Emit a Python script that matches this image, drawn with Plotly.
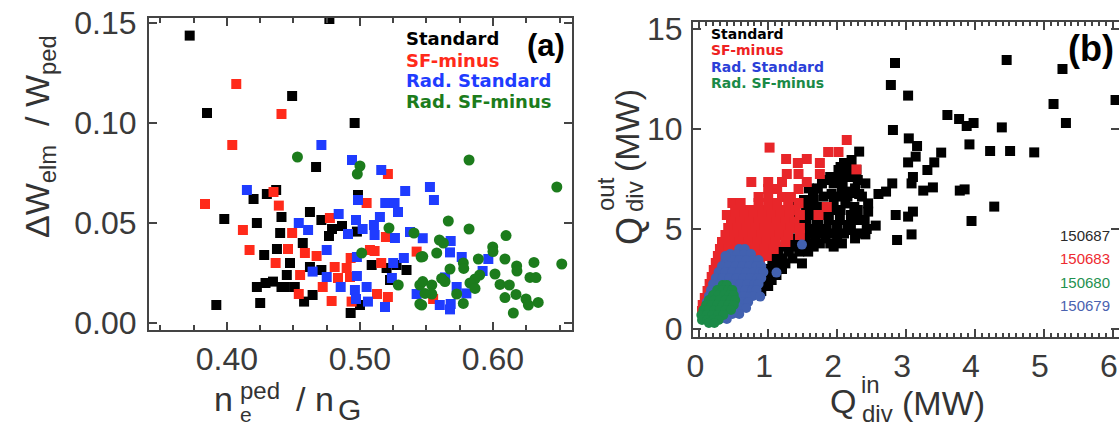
import plotly.graph_objects as go

W, H = 1119, 428

# ---------------- Panel (a) data: dW_elm/W_ped vs n_e^ped/n_G ----------------
A_STANDARD = [
    (0.372, 0.1437), (0.477, 0.152), (0.449, 0.1135), (0.385, 0.105), (0.496, 0.100),
    (0.467, 0.078), (0.437, 0.0665), (0.430, 0.0645), (0.420, 0.062), (0.4985, 0.064),
    (0.398, 0.052), (0.4225, 0.050), (0.441, 0.053), (0.440, 0.045), (0.4376, 0.037),
    (0.428, 0.034), (0.4225, 0.018), (0.429, 0.020), (0.4346, 0.0207), (0.392, 0.009),
    (0.425, 0.010), (0.441, 0.018), (0.4624, 0.0555), (0.471, 0.0515), (0.479, 0.047),
    (0.4767, 0.0435), (0.4865, 0.0485), (0.4977, 0.0457), (0.457, 0.040), (0.5088, 0.029),
    (0.520, 0.0275), (0.5275, 0.029), (0.535, 0.0265), (0.4474, 0.030), (0.445, 0.024),
    (0.4624, 0.028), (0.471, 0.0265), (0.4436, 0.018), (0.451, 0.018), (0.458, 0.0107),
    (0.4644, 0.014), (0.500, 0.009), (0.493, 0.005), (0.5226, 0.0215),
]
A_SF_MINUS = [
    (0.407, 0.1195), (0.441, 0.1045), (0.404, 0.089), (0.521, 0.0745), (0.435, 0.0655),
    (0.3835, 0.0595), (0.439, 0.0587), (0.412, 0.0465), (0.417, 0.0365), (0.4366, 0.030),
    (0.505, 0.060), (0.4774, 0.0525), (0.5195, 0.043), (0.5426, 0.0357), (0.449, 0.045),
    (0.4459, 0.037), (0.4586, 0.035), (0.4674, 0.0335), (0.481, 0.028), (0.490, 0.0275),
    (0.493, 0.0325), (0.5075, 0.0365), (0.511, 0.036), (0.516, 0.030), (0.455, 0.024),
    (0.4835, 0.0225), (0.4925, 0.023), (0.454, 0.0145), (0.472, 0.018), (0.4787, 0.011),
    (0.4937, 0.0107), (0.5128, 0.0145), (0.521, 0.013), (0.555, 0.012),
]
A_RAD_STANDARD = [
    (0.471, 0.089), (0.494, 0.0815), (0.516, 0.0765), (0.415, 0.0665), (0.534, 0.066),
    (0.4985, 0.0615), (0.519, 0.060), (0.526, 0.060), (0.5286, 0.0555), (0.484, 0.0545),
    (0.454, 0.050), (0.461, 0.0465), (0.491, 0.0445), (0.497, 0.0515), (0.502, 0.047),
    (0.5105, 0.049), (0.515, 0.053), (0.511, 0.044), (0.5263, 0.0425), (0.5376, 0.0455),
    (0.475, 0.0365), (0.4977, 0.033), (0.525, 0.030), (0.533, 0.0325), (0.4644, 0.0257),
    (0.475, 0.023), (0.4977, 0.0235), (0.4855, 0.018), (0.4962, 0.0165), (0.497, 0.012),
    (0.505, 0.018), (0.506, 0.0107), (0.5188, 0.008), (0.524, 0.0225), (0.5426, 0.0145),
    (0.5526, 0.068), (0.5556, 0.0615), (0.5472, 0.0424), (0.5682, 0.041), (0.5677, 0.0353),
    (0.5765, 0.033), (0.5965, 0.032), (0.5922, 0.026), (0.564, 0.0228), (0.5727, 0.018),
    (0.580, 0.0148), (0.560, 0.009), (0.5682, 0.0095), (0.5677, 0.0068),
]
A_RAD_SF_MINUS = [
    (0.453, 0.083), (0.500, 0.0785), (0.498, 0.0745), (0.5218, 0.0475), (0.5406, 0.045),
    (0.546, 0.033), (0.5013, 0.035), (0.5288, 0.019), (0.545, 0.019), (0.545, 0.0095),
    (0.582, 0.0815), (0.648, 0.068), (0.5664, 0.051), (0.582, 0.047), (0.6098, 0.0437),
    (0.5597, 0.0415), (0.5627, 0.040), (0.5998, 0.038), (0.600, 0.0357), (0.5577, 0.035),
    (0.5472, 0.0332), (0.589, 0.032), (0.609, 0.032), (0.6308, 0.0303), (0.6517, 0.0295),
    (0.5777, 0.030), (0.578, 0.0273), (0.6178, 0.0285), (0.618, 0.026), (0.5677, 0.027),
    (0.6015, 0.0245), (0.590, 0.024), (0.6278, 0.0228), (0.6323, 0.0227), (0.5865, 0.022),
    (0.5827, 0.020), (0.5639, 0.0207), (0.5614, 0.0223), (0.5472, 0.0207), (0.554, 0.019),
    (0.6053, 0.0193), (0.6123, 0.019), (0.5865, 0.0173), (0.5727, 0.0145), (0.554, 0.0145),
    (0.5489, 0.0148), (0.609, 0.0127), (0.6173, 0.0143), (0.6248, 0.012), (0.634, 0.0103),
    (0.6266, 0.009), (0.5777, 0.0098), (0.5464, 0.009), (0.6153, 0.005),
]

# ---------------- Panel (b) data: Q_div^out vs Q_div^in ----------------
B_STANDARD_POINTS = [
    (2.84, 13.3), (4.46, 13.45), (5.27, 13.0), (2.78, 12.2), (3.03, 11.67), (6.04, 11.45),
    (5.14, 11.25), (5.32, 10.3), (3.60, 10.7), (3.77, 10.5), (3.88, 10.15), (3.98, 10.3),
    (4.39, 10.08), (2.81, 9.95), (3.04, 9.53), (3.16, 9.15), (3.92, 9.23), (4.22, 8.9),
    (4.51, 8.9), (4.86, 8.83), (3.51, 8.82), (2.32, 8.87), (3.14, 8.62), (3.03, 8.33),
    (3.41, 8.33), (3.31, 7.95), (3.10, 7.6), (3.08, 7.28), (2.80, 7.28), (2.71, 6.87),
    (2.60, 6.75), (3.25, 6.92), (3.39, 7.08), (3.78, 6.92), (3.85, 6.98), (2.45, 6.28),
    (2.45, 5.87), (2.85, 5.7), (3.03, 5.62), (3.10, 5.87), (4.28, 6.12), (3.95, 5.4),
    (2.56, 5.17), (3.08, 4.73), (2.87, 4.45), (2.41, 4.73), (2.26, 4.53), (2.21, 6.8),
]
# dense part of the Standard cloud, one row per Q_out level: (Q_out, [Q_in values])
B_STANDARD_ROWS = [
    (8.45, [2.21]), (8.3, [2.1]), (8.1, [2.05, 2.16]), (7.95, [2.02, 2.28]),
    (7.6, [1.90, 2.0, 2.12, 2.24]), (7.45, [1.85, 2.3]), (7.28, [1.78, 1.95, 2.08, 2.41]),
    (7.03, [1.59, 1.72, 2.26]), (6.87, [2.07, 2.2]), (6.75, [1.65, 1.92, 2.32]),
    (6.62, [1.80, 2.02, 2.15, 2.36]), (6.45, [1.52, 1.66]), (6.28, [1.40, 1.95, 2.12]),
    (6.1, [1.6, 1.78, 2.25]), (5.95, [1.55, 1.68, 1.92, 2.05, 2.30]),
    (5.7, [1.37, 1.61, 1.80, 2.2]), (5.45, [1.52, 1.70, 1.88, 2.04, 2.26, 2.40]),
    (5.2, [1.55, 1.73, 2.0, 2.15]), (5.0, [1.62, 1.85, 2.43]), (4.95, [1.72, 2.0, 2.2]),
    (4.78, [1.50, 1.64, 1.78, 1.95, 2.10, 2.31]), (4.53, [1.40, 1.54, 1.68, 1.83, 2.0]),
    (4.28, [1.30, 1.45, 1.60, 1.75, 1.9, 2.07]), (4.12, [1.25, 1.42, 1.66, 1.95]),
    (3.87, [1.15, 1.30, 1.45, 1.58]), (3.53, [1.10, 1.20, 1.35]),
    (3.28, [1.06, 1.13, 1.25, 1.49]), (3.0, [1.0, 1.1, 1.2]), (2.7, [0.98, 1.06, 1.12]),
    (2.45, [0.96, 1.05]), (2.15, [0.92, 1.0]), (1.9, [0.9]),
]
B_SF_MINUS_ROWS = [
    (9.45, [2.14]), (9.07, [1.02]), (8.85, [1.87, 2.02]), (8.5, [1.26, 1.56]),
    (8.3, [1.43, 1.75]), (7.98, [2.28]), (7.75, [1.27, 1.44, 1.75]),
    (7.35, [0.755, 1.0, 1.2, 1.56]), (7.0, [1.0, 1.13, 1.44]), (6.6, [0.86, 1.0, 1.2, 1.33]),
    (6.3, [0.48, 0.6, 0.86, 1.0, 1.13, 1.29, 1.44]), (6.1, [1.85]),
    (5.95, [0.52, 0.62, 0.75, 0.88, 1.0, 1.13, 1.26, 1.40]),
    (5.7, [0.40, 0.53, 0.66, 0.79, 0.92, 1.05, 1.18, 1.31, 1.46, 1.73]),
    (5.35, [0.46, 0.6, 0.73, 0.86, 0.99, 1.12, 1.25, 1.38]),
    (5.05, [0.42, 0.55, 0.68, 0.81, 0.94, 1.07, 1.2, 1.33, 1.46]),
    (4.7, [0.38, 0.51, 0.64, 0.77, 0.9, 1.03, 1.16, 1.29, 1.46]),
    (4.35, [0.33, 0.46, 0.59, 0.72, 0.85, 0.98, 1.11, 1.25]),
    (4.0, [0.30, 0.43, 0.56, 0.69, 0.82, 0.95, 1.08]),
    (3.65, [0.27, 0.4, 0.85, 0.98]), (3.3, [0.24, 0.36, 0.88]), (2.95, [0.21, 0.3, 0.82]),
    (2.6, [0.18, 0.26]), (2.25, [0.15, 0.22]), (1.9, [0.12, 0.18]), (1.55, [0.08, 0.14]),
    (1.2, [0.05, 0.1]), (0.9, [0.04]),
]
B_RAD_STANDARD_POINTS = [(0.38, 3.65), (1.49, 4.22), (1.12, 2.82), (0.885, 1.62)]
B_RAD_STANDARD_ROWS = [
    (4.0, [0.58, 0.66]), (3.75, [0.45, 0.55, 0.65, 0.75]),
    (3.45, [0.38, 0.48, 0.58, 0.68, 0.78, 0.86]),
    (3.15, [0.33, 0.43, 0.53, 0.63, 0.73, 0.83, 0.9]),
    (2.85, [0.28, 0.38, 0.48, 0.58, 0.68, 0.78, 0.88, 0.93]),
    (2.55, [0.24, 0.34, 0.44, 0.54, 0.64, 0.74, 0.84, 0.9]),
    (2.25, [0.2, 0.3, 0.4, 0.5, 0.6, 0.7, 0.8, 0.86]),
    (1.95, [0.17, 0.27, 0.37, 0.47, 0.57, 0.67, 0.77, 0.83]),
    (1.65, [0.14, 0.24, 0.34, 0.44, 0.54, 0.64, 0.74, 0.78]),
    (1.35, [0.11, 0.21, 0.31, 0.41, 0.51, 0.61, 0.71]),
    (1.05, [0.09, 0.19, 0.29, 0.39, 0.49, 0.59, 0.68]),
    (0.75, [0.08, 0.18, 0.28, 0.38, 0.48, 0.58]),
    (0.5, [0.1, 0.2, 0.3, 0.4]),
]
B_RAD_SF_MINUS_ROWS = [
    (2.2, [0.34, 0.40]), (1.95, [0.26, 0.34, 0.42, 0.48]), (1.7, [0.2, 0.28, 0.36, 0.44, 0.5]),
    (1.45, [0.14, 0.22, 0.3, 0.38, 0.46, 0.52]), (1.2, [0.1, 0.18, 0.26, 0.34, 0.42, 0.5]),
    (0.95, [0.06, 0.14, 0.22, 0.3, 0.38, 0.46]), (0.7, [0.03, 0.11, 0.19, 0.27, 0.35]),
    (0.45, [0.04, 0.12, 0.2, 0.28]), (0.3, [0.14, 0.22]),
]

A_XTICKS = [0.40, 0.50, 0.60]
A_XTICKTEXT = ["0.40", "0.50", "0.60"]
A_XMINOR = [0.35, 0.375, 0.425, 0.45, 0.475, 0.525, 0.55, 0.575, 0.625, 0.65]
A_YTICKS = [0.00, 0.05, 0.10, 0.15]
A_YTICKTEXT = ["0.00", "0.05", "0.10", "0.15"]
B_XTICKS = [0, 1, 2, 3, 4, 5, 6]
B_YTICKS = [0, 5, 10, 15]

LEGEND_NAMES = ["Standard", "SF-minus", "Rad. Standard", "Rad. SF-minus"]
SHOTS = ["150687", "150683", "150680", "150679"]

A_COLORS = ["#000000", "#ff2a1a", "#1f3cff", "#1c7c1c"]
B_COLORS = ["#000000", "#e8262a", "#4261b0", "#1b8a47"]
B_LEGEND_COLORS = ["#000000", "#ee2222", "#2b3fd8", "#1b8a47"]
SHOT_COLORS = ["#2a2a2a", "#ee2a30", "#1f9150", "#4a62b0"]


def unpack(points):
    return [p[0] for p in points], [p[1] for p in points]


def unrows(rows):
    xs, ys = [], []
    for yv, xvals in rows:
        for xv in xvals:
            xs.append(xv)
            ys.append(yv)
    return xs, ys


def px(x):
    return x / W


def py(y):
    return 1 - y / H


fig = go.Figure()

# panel (a)
for pts, col, sym, sz in [
    (A_STANDARD, A_COLORS[0], "square", 10),
    (A_SF_MINUS, A_COLORS[1], "square", 10),
    (A_RAD_STANDARD, A_COLORS[2], "square", 10),
    (A_RAD_SF_MINUS, A_COLORS[3], "circle", 11),
]:
    xs, ys = unpack(pts)
    fig.add_trace(go.Scatter(x=xs, y=ys, mode="markers", xaxis="x", yaxis="y",
                             marker=dict(symbol=sym, size=sz, color=col, line=dict(width=0)),
                             showlegend=False, hoverinfo="skip"))

# panel (b)
bx, by = unpack(B_STANDARD_POINTS)
rx, ry = unrows(B_STANDARD_ROWS)
fig.add_trace(go.Scatter(x=bx + rx, y=by + ry, mode="markers", xaxis="x2", yaxis="y2",
                         marker=dict(symbol="square", size=10, color=B_COLORS[0], line=dict(width=0)),
                         showlegend=False, hoverinfo="skip"))
rx, ry = unrows(B_SF_MINUS_ROWS)
fig.add_trace(go.Scatter(x=rx, y=ry, mode="markers", xaxis="x2", yaxis="y2",
                         marker=dict(symbol="square", size=10, color=B_COLORS[1], line=dict(width=0)),
                         showlegend=False, hoverinfo="skip"))
bx, by = unpack(B_RAD_STANDARD_POINTS)
rx, ry = unrows(B_RAD_STANDARD_ROWS)
fig.add_trace(go.Scatter(x=rx + bx, y=ry + by, mode="markers", xaxis="x2", yaxis="y2",
                         marker=dict(symbol="circle", size=10, color=B_COLORS[2], line=dict(width=0)),
                         showlegend=False, hoverinfo="skip"))
rx, ry = unrows(B_RAD_SF_MINUS_ROWS)
fig.add_trace(go.Scatter(x=rx, y=ry, mode="markers", xaxis="x2", yaxis="y2",
                         marker=dict(symbol="circle", size=10, color=B_COLORS[3], line=dict(width=0)),
                         showlegend=False, hoverinfo="skip"))

TICKFONT = dict(family="Liberation Sans, Arial, sans-serif", size=32, color="#3a3a3a")
axis_common = dict(showline=True, linecolor="#444444", linewidth=2, mirror="allticks",
                   ticks="inside", tickcolor="#444444", tickwidth=1.5, showgrid=False,
                   zeroline=False, tickfont=TICKFONT, automargin=False)

fig.update_layout(
    width=W, height=H, margin=dict(l=0, r=0, t=0, b=0, pad=0, autoexpand=False),
    paper_bgcolor="white", plot_bgcolor="white",
    xaxis=dict(domain=[px(149), px(572)], range=[0.3414, 0.6594], anchor="y",
               tickmode="array", tickvals=A_XTICKS, ticktext=A_XTICKTEXT, ticklen=8,
               minor=dict(tickvals=A_XMINOR, ticklen=5, ticks="inside", tickcolor="#444444"),
               **axis_common),
    yaxis=dict(domain=[py(330), py(18)], range=[-0.0035, 0.1525], anchor="x",
               tickmode="array", tickvals=A_YTICKS, ticktext=A_YTICKTEXT, ticklen=8,
               ticklabelstandoff=4, **axis_common),
    xaxis2=dict(domain=[px(693), 1.0], range=[-0.091, 6.09], anchor="y2",
                tickmode="array", tickvals=B_XTICKS, ticklen=8, ticklabeloverflow="allow",
                ticklabelshift=-4,
                minor=dict(dtick=0.1, ticklen=4, ticks="inside", tickcolor="#444444"),
                **axis_common),
    yaxis2=dict(domain=[py(337), py(22)], range=[-0.4, 15.35], anchor="x2",
                tickmode="array", tickvals=B_YTICKS, ticklen=8, ticklabelstandoff=2,
                **axis_common),
)

ann = []
LBL = "Liberation Sans, Arial, sans-serif"
LEG = "DejaVu Sans, Verdana, sans-serif"


def add_text(text, x, y, size, color="#333333", family=LBL, xanchor="center", angle=0,
             yanchor="middle"):
    ann.append(dict(text=text, x=px(x), y=py(y), xref="paper", yref="paper",
                    xanchor=xanchor, yanchor=yanchor, showarrow=False, textangle=angle,
                    font=dict(family=family, size=size, color=color)))


# panel (a) axis titles
add_text("ΔW<sub>elm</sub>  / W<sub>ped</sub>", 40, 137, 34, angle=-90)
add_text("n", 223, 399, 34)
add_text("ped", 260, 390, 24)
add_text("e", 246, 428, 21, yanchor="bottom")
add_text("/ n", 315, 399, 34)
add_text("G", 349, 428, 30, yanchor="bottom")

# panel (b) axis titles
add_text("Q", 843, 401, 34)
add_text("in", 870, 384, 24)
add_text("div", 877, 413, 24)
add_text("(MW)", 943, 403, 34)
add_text("Q", 629, 231, 36, angle=-90)
add_text("out", 605, 194, 24, angle=-90)
add_text("div", 634, 197, 24, angle=-90)
add_text("(MW)", 627, 131, 34, angle=-90)

# legends
for i, name in enumerate(LEGEND_NAMES):
    add_text("<b>" + name + "</b>", 404, 39 + 21 * i, 18, color=A_COLORS[i], family=LEG,
             xanchor="left")
    add_text("<b>" + name + "</b>", 709, 34 + 16.4 * i, 14, color=B_LEGEND_COLORS[i],
             family=LEG, xanchor="left")
    add_text(SHOTS[i], 1058, 235 + 23.5 * i, 15, color=SHOT_COLORS[i], xanchor="left")

add_text("<b>(a)</b>", 546, 46, 31, color="#000000")
add_text("<b>(b)</b>", 1091, 48, 36, color="#000000")

fig.update_layout(annotations=ann)

fig.write_html("out.html", config={"displayModeBar": False},
               post_script="document.body.style.margin='0';document.body.style.overflow='hidden';")
